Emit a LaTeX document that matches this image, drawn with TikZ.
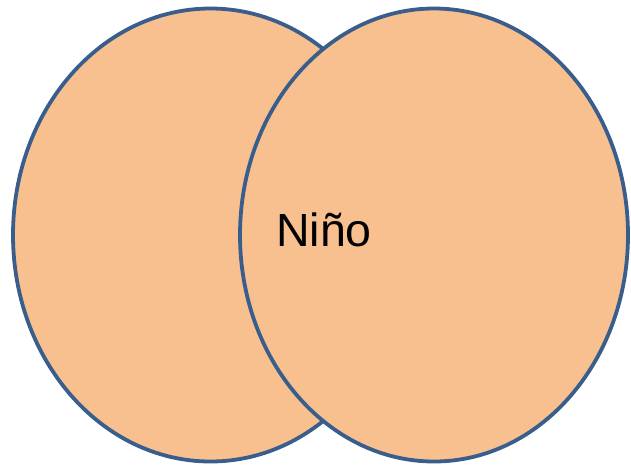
\documentclass[tikz,border=0pt]{standalone}
\usepackage{fontspec}
\setmainfont{Liberation Sans}
\definecolor{peach}{HTML}{F9C08F}
\definecolor{rim}{HTML}{3A5E8C}
\begin{document}
\begin{tikzpicture}[x=1pt,y=-1pt,
  circ/.style={fill=peach,draw=rim,line width=3.8pt}]
\useasboundingbox (0,0) rectangle (631,467);
\path[circ] (210.5,235) ellipse [x radius=197.5,y radius=226.5];
\path[circ] (434,235) ellipse [x radius=194,y radius=226.5];
\node[anchor=base west,inner sep=0pt,font=\fontsize{46.5}{52}\selectfont] (nino) at (276,246) {Niño};
\end{tikzpicture}
\end{document}
